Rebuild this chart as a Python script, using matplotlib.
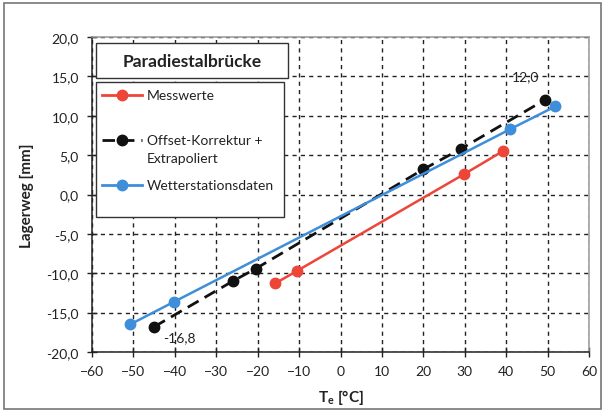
import matplotlib
matplotlib.use("Agg")
import matplotlib.pyplot as plt
from matplotlib.patches import Rectangle
from matplotlib.ticker import FuncFormatter, MultipleLocator

plt.rcParams['font.family'] = ['Lato', 'DejaVu Sans']
plt.rcParams['mathtext.fontset'] = 'custom'
plt.rcParams['mathtext.bf'] = 'Lato:bold'
plt.rcParams['mathtext.rm'] = 'Lato'

# Messwerte
mess_t = [-15.8, -10.5, 29.9, 39.2]
mess_w = [-11.3, -9.7, 2.6, 5.5]
# Offset-Korrektur + Extrapoliert
off_t = [-45.0, -26.0, -20.4, 20.0, 29.1, 49.3]
off_w = [-16.8, -11.0, -9.4, 3.2, 5.8, 12.0]
# Wetterstationsdaten
wet_t = [-50.8, -40.1, 41.0, 51.9]
wet_w = [-16.5, -13.6, 8.3, 11.2]

red = '#EE4539'
blue = '#3E8ED9'
black = '#111111'
dash = (0, (4.5, 2.5))

fig = plt.figure(figsize=(6.05, 4.14), dpi=100)
ax = fig.add_axes([92/605, 1-353/414, 497/605, 315/414])

ax.plot(mess_t, mess_w, color=red, lw=1.8, marker='o', ms=7.5, zorder=3)
ax.plot(off_t, off_w, color=black, lw=2.0, ls=dash, marker='o', ms=7.5, zorder=4)
ax.plot(wet_t, wet_w, color=blue, lw=1.8, marker='o', ms=7.5, zorder=5)

ax.text(44.8, 15.0, '12,0', ha='center', va='center', fontsize=10, color='#222')
ax.text(-38.8, -18.1, '-16,8', ha='center', va='center', fontsize=10, color='#222')

ax.set_xlim(-60, 60)
ax.set_ylim(-20, 20)
ax.xaxis.set_major_locator(MultipleLocator(10))
ax.yaxis.set_major_locator(MultipleLocator(5))
ax.yaxis.set_major_formatter(FuncFormatter(lambda v, p: ('%.1f' % v).replace('.', ',')))
ax.tick_params(direction='inout', length=7, width=1, labelsize=10, colors='#222', pad=6)
ax.grid(True, color='#222', ls=(0, (3, 3)), lw=1)
ax.set_axisbelow(True)
for s in ['left', 'bottom']:
    ax.spines[s].set_color('#222')
    ax.spines[s].set_linewidth(1.1)
for s in ['top', 'right']:
    ax.spines[s].set_color('#999')
    ax.spines[s].set_linewidth(1.1)

ax.set_xlabel(r'$\mathbf{T_e}$ [°C]', fontsize=11, fontweight='bold', color='#222', labelpad=7)
ax.set_ylabel('Lagerweg [mm]', fontsize=11, fontweight='bold', color='#222', labelpad=9)

# title box
ax.add_patch(Rectangle((0.008, 0.870), 0.386, 0.111, transform=ax.transAxes,
                       facecolor='white', edgecolor='#333', lw=1.0, zorder=6))
ax.text(0.201, 0.925, 'Paradiestalbrücke', transform=ax.transAxes, ha='center', va='center',
        fontsize=12.5, fontweight='bold', color='#222', zorder=7)

# legend box
ax.add_patch(Rectangle((0.008, 0.429), 0.378, 0.428, transform=ax.transAxes,
                       facecolor='white', edgecolor='#333', lw=1.0, zorder=6))
entries = [('Messwerte', red, '-', 0.816),
           ('Offset-Korrektur +', black, dash, 0.673),
           ('Wetterstationsdaten', blue, '-', 0.530)]
for label, c, ls, y in entries:
    ax.plot([0.020, 0.101], [y, y], transform=ax.transAxes, color=c, lw=2.0, ls=ls, zorder=7)
    ax.plot([0.060], [y], transform=ax.transAxes, color=c, marker='o', ms=7.5, zorder=8)
    ax.text(0.111, y, label, transform=ax.transAxes, va='center', fontsize=10, color='#222', zorder=8)
ax.text(0.111, 0.616, 'Extrapoliert', transform=ax.transAxes, va='center', fontsize=10,
        color='#222', zorder=8)

fig.patches.append(Rectangle((0.007, 0.01), 0.986, 0.98, transform=fig.transFigure,
                             fill=False, edgecolor='#777', lw=1.2))

fig.savefig('out.png', dpi=100)
